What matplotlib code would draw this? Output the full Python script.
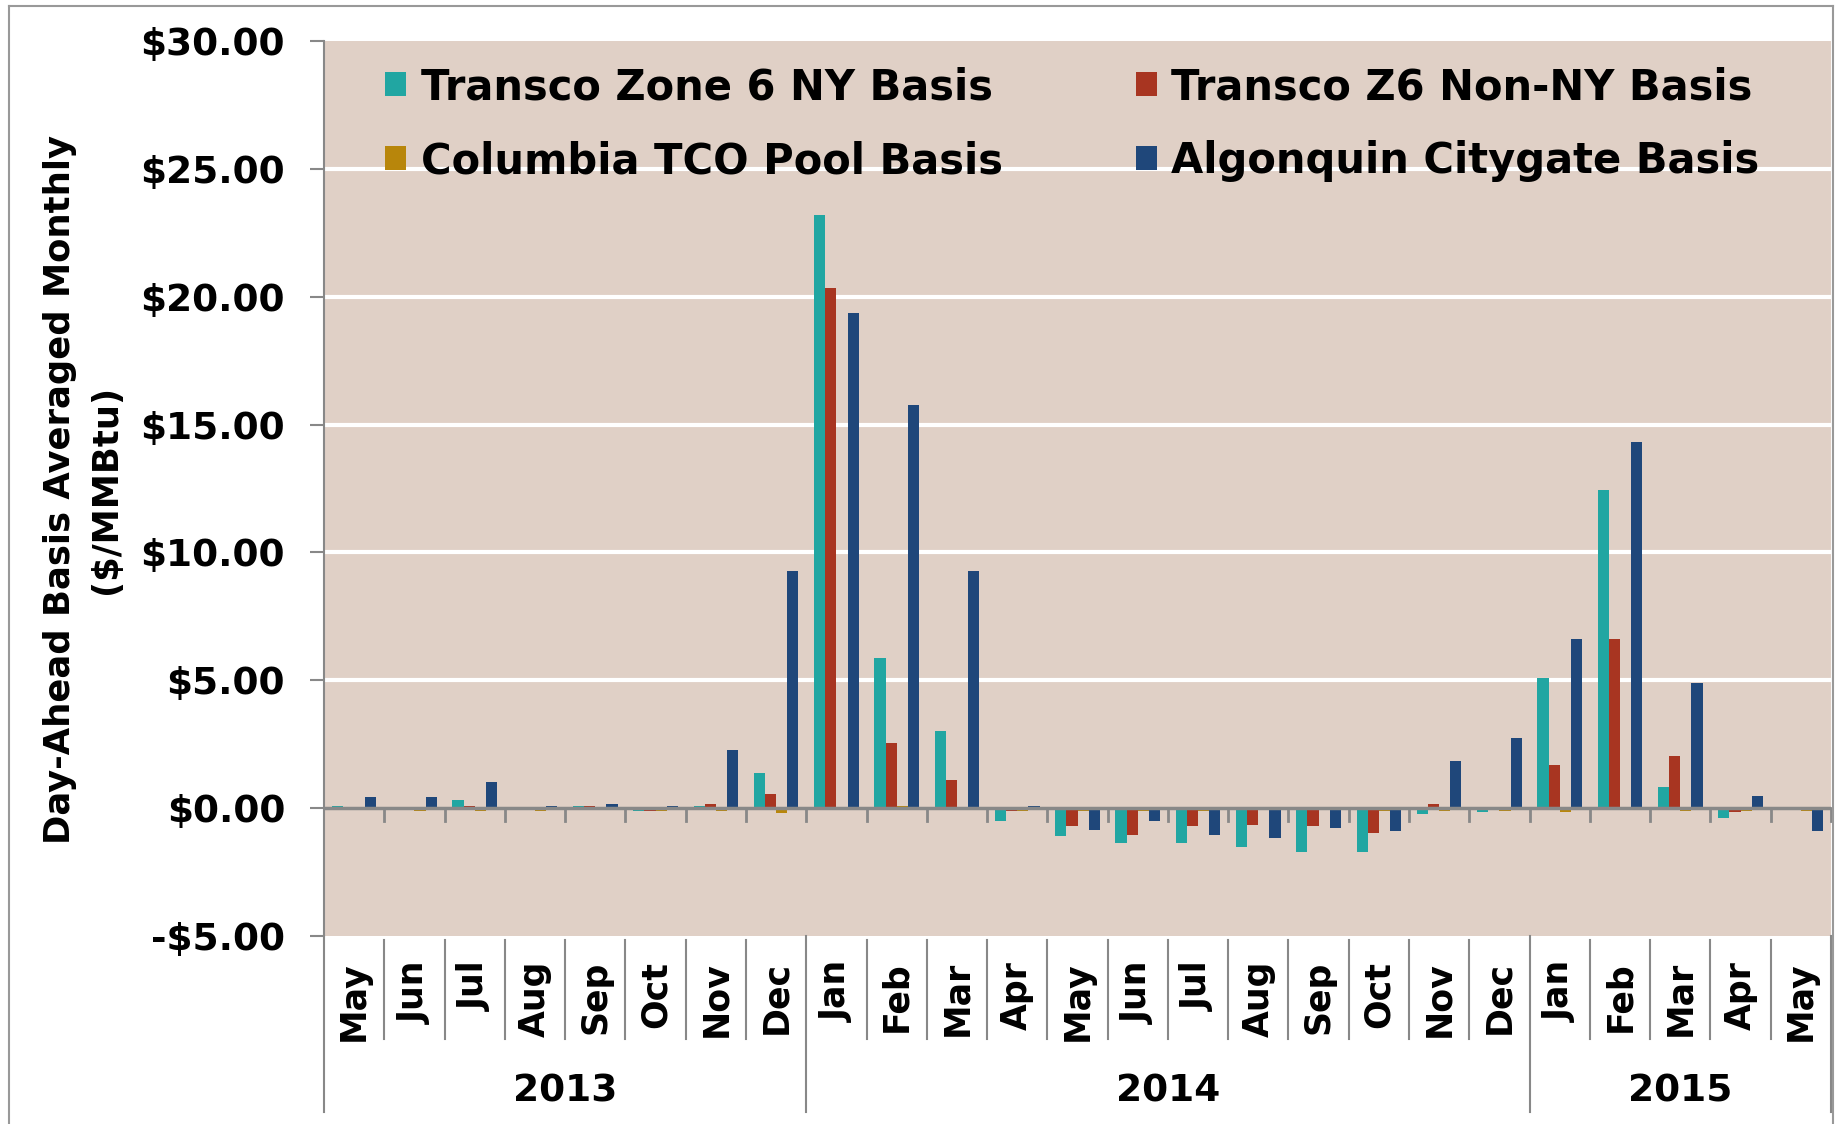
import matplotlib
matplotlib.use("Agg")
import matplotlib.pyplot as plt
from matplotlib.patches import Patch
from matplotlib.lines import Line2D
import matplotlib.transforms as mtransforms
import numpy as np

months = ['May', 'Jun', 'Jul', 'Aug', 'Sep', 'Oct', 'Nov', 'Dec',
          'Jan', 'Feb', 'Mar', 'Apr', 'May', 'Jun', 'Jul', 'Aug', 'Sep', 'Oct', 'Nov', 'Dec',
          'Jan', 'Feb', 'Mar', 'Apr', 'May']
year_labels = ['2013', '2014', '2015']
year_counts = [8, 12, 5]

transco_ny = [0.10, 0.00, 0.30, 0.00, 0.10, -0.10, 0.10, 1.36, 23.20, 5.86, 3.02, -0.50,
              -1.10, -1.37, -1.37, -1.51, -1.71, -1.71, -0.23, -0.17, 5.08, 12.44, 0.81, -0.38, 0.00]
transco_nonny = [0.00, 0.00, 0.10, 0.00, 0.10, -0.10, 0.18, 0.57, 20.36, 2.56, 1.10, -0.10,
                 -0.70, -1.04, -0.70, -0.64, -0.70, -0.98, 0.17, 0.00, 1.70, 6.63, 2.02, -0.17, 0.00]
columbia = [0.00, -0.10, -0.10, -0.10, 0.00, -0.10, -0.10, -0.18, 0.00, 0.10, 0.00, -0.10,
            -0.10, -0.10, -0.10, -0.05, 0.00, -0.10, -0.10, -0.10, -0.17, 0.00, -0.10, -0.10, -0.10]
algonquin = [0.45, 0.42, 1.03, 0.10, 0.18, 0.10, 2.28, 9.29, 19.35, 15.78, 9.29, 0.10,
             -0.85, -0.50, -1.04, -1.17, -0.77, -0.90, 1.83, 2.74, 6.63, 14.32, 4.90, 0.48, -0.90]

series_names = ['Transco Zone 6 NY Basis', 'Transco Z6 Non-NY Basis',
                'Columbia TCO Pool Basis', 'Algonquin Citygate Basis']
series_values = [transco_ny, transco_nonny, columbia, algonquin]
colors = ['#21A6A2', '#A83521', '#B8860B', '#1F477A']

yticks = [-5, 0, 5, 10, 15, 20, 25, 30]

FONT = 'DejaVu Sans'
plt.rcParams['font.family'] = [FONT]
plt.rcParams['font.weight'] = 'bold'

fig = plt.figure(figsize=(18.35, 11.24), dpi=100)
ax = fig.add_axes([324 / 1835, 1 - 936 / 1124, (1831 - 324) / 1835, (936 - 41) / 1124])
ax.set_facecolor('#E0D0C6')

n = len(months)
x = np.arange(n) + 0.5
w = 0.185
offsets = [-1.5, -0.5, 0.5, 1.5]
for vals, c, off, name in zip(series_values, colors, offsets, series_names):
    ax.bar(x + off * w, vals, width=w, color=c, label=name, zorder=3)

ax.set_xlim(0, n)
ax.set_ylim(-5, 30)
ax.set_yticks(yticks)
ax.set_yticklabels([('-$%.2f' % abs(v)) if v < 0 else ('$%.2f' % v) for v in yticks],
                   fontsize=27, fontweight='bold')
ax.tick_params(axis='y', length=10, width=1.5, color='#888888', pad=18, direction='out')
ax.set_xticks([])
for g in [5, 10, 15, 20, 25]:
    ax.axhline(g, color='white', lw=3, zorder=1)
ax.axhline(0, color='#888888', lw=2.5, zorder=4)

for s in ['top', 'right', 'bottom']:
    ax.spines[s].set_visible(False)
ax.spines['left'].set_color('#888888')
ax.spines['left'].set_linewidth(1.5)

# small tick marks on zero line at category boundaries
for b in range(1, n + 1):
    ax.plot([b, b], [0, -0.5], color='#888888', lw=2, zorder=4, clip_on=False)

# category labels and separators below axis
blend = mtransforms.blended_transform_factory(ax.transData, ax.transAxes)
axh = 895.0
for i, m in enumerate(months):
    ax.text(i + 0.5, -25 / axh, m, rotation=90, ha='center', va='top',
            fontsize=25, fontweight='bold', transform=blend)
year_bounds = np.concatenate([[0], np.cumsum(year_counts)])
for b in range(0, n + 1):
    if b in year_bounds:
        ax.add_line(Line2D([b, b], [0, -176 / axh], color='#888888', lw=1.5,
                           transform=blend, clip_on=False))
    else:
        ax.add_line(Line2D([b, b], [-4 / axh, -103 / axh], color='#888888', lw=1.5,
                           transform=blend, clip_on=False))
for lab, a, bnd in zip(year_labels, year_bounds[:-1], year_bounds[1:]):
    ax.text((a + bnd) / 2, -156 / axh, lab, ha='center', va='center',
            fontsize=27, fontweight='bold', transform=blend)

# y label
fig.text(83 / 1835, 1 - 489 / 1124, 'Day-Ahead Basis Averaged Monthly\n($/MMBtu)',
         rotation=90, ha='center', va='center', multialignment='center',
         fontsize=25.5, fontweight='bold', linespacing=1.45)

# legend (row-wise order)
handles = [Patch(facecolor=c) for c in colors]
order = [0, 2, 1, 3]
leg = ax.legend([handles[i] for i in order], [series_names[i] for i in order],
                ncol=2, loc='upper left', bbox_to_anchor=(0.024, 1.0),
                frameon=False, handlelength=0.5, handleheight=0.5,
                handletextpad=0.35, columnspacing=3.2, labelspacing=0.77,
                borderaxespad=0.2, prop={'weight': 'bold', 'size': 30})
leg.set_zorder(5)

# figure border
for seg in [([9, 9], [6, 1124]), ([9, 1833], [6, 6]), ([1833, 1833], [6, 1124])]:
    fig.add_artist(Line2D([seg[0][0] / 1835, seg[0][1] / 1835],
                          [1 - seg[1][0] / 1124, 1 - seg[1][1] / 1124],
                          color='#999999', lw=1.5, transform=fig.transFigure))

fig.savefig('out.png', dpi=100, facecolor='white')
